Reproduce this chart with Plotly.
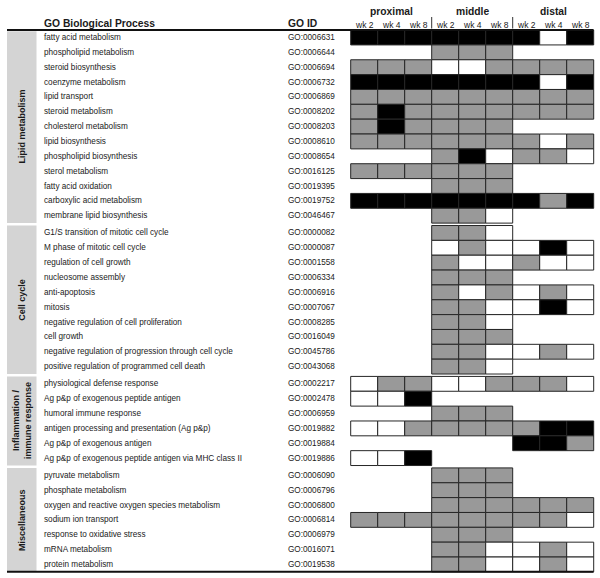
import plotly.graph_objects as go

# ---------------- data ----------------
region_names = ["proximal", "middle", "distal"]
week_labels = ["wk 2", "wk 4", "wk 8"]

group_names = ["Lipid metabolism", "Cell cycle", "Inflammation /<br>immune response", "Miscellaneous"]

lipid_terms = ["fatty acid metabolism", "phospholipid metabolism", "steroid biosynthesis",
               "coenzyme metabolism", "lipid transport", "steroid metabolism",
               "cholesterol metabolism", "lipid biosynthesis", "phospholipid biosynthesis",
               "sterol metabolism", "fatty acid oxidation", "carboxylic acid metabolism",
               "membrane lipid biosynthesis"]
lipid_ids = ["GO:0006631", "GO:0006644", "GO:0006694", "GO:0006732", "GO:0006869",
             "GO:0008202", "GO:0008203", "GO:0008610", "GO:0008654", "GO:0016125",
             "GO:0019395", "GO:0019752", "GO:0046467"]
# 0 = not tested (blank), 1 = white, 2 = grey, 3 = black
lipid_vals = [
    [3, 3, 3, 3, 3, 3, 3, 1, 3],
    [0, 0, 0, 2, 2, 2, 0, 0, 0],
    [2, 2, 2, 1, 1, 2, 2, 2, 2],
    [3, 3, 3, 3, 3, 3, 3, 1, 3],
    [2, 2, 2, 2, 2, 2, 2, 2, 2],
    [2, 3, 2, 2, 2, 2, 2, 2, 2],
    [2, 3, 2, 2, 2, 2, 0, 0, 0],
    [2, 2, 2, 2, 2, 2, 2, 1, 2],
    [0, 0, 0, 2, 3, 1, 2, 2, 1],
    [2, 2, 2, 2, 2, 2, 0, 0, 0],
    [0, 0, 0, 2, 2, 2, 0, 0, 0],
    [3, 3, 3, 3, 3, 3, 3, 2, 3],
    [0, 0, 0, 2, 2, 1, 0, 0, 0],
]

cell_terms = ["G1/S transition of mitotic cell cycle", "M phase of mitotic cell cycle",
              "regulation of cell growth", "nucleosome assembly", "anti-apoptosis", "mitosis",
              "negative regulation of cell proliferation", "cell growth",
              "negative regulation of progression through cell cycle",
              "positive regulation of programmed cell death"]
cell_ids = ["GO:0000082", "GO:0000087", "GO:0001558", "GO:0006334", "GO:0006916",
            "GO:0007067", "GO:0008285", "GO:0016049", "GO:0045786", "GO:0043068"]
cell_vals = [
    [0, 0, 0, 2, 2, 1, 0, 0, 0],
    [0, 0, 0, 1, 2, 1, 1, 3, 1],
    [0, 0, 0, 2, 1, 1, 2, 1, 1],
    [0, 0, 0, 2, 2, 2, 0, 0, 0],
    [0, 0, 0, 2, 1, 2, 1, 2, 1],
    [0, 0, 0, 2, 2, 1, 1, 3, 1],
    [0, 0, 0, 2, 2, 1, 0, 0, 0],
    [0, 0, 0, 2, 2, 2, 0, 0, 0],
    [0, 0, 0, 2, 2, 1, 1, 2, 1],
    [0, 0, 0, 2, 2, 1, 0, 0, 0],
]

immune_terms = ["physiological defense response", "Ag p&p of exogenous peptide antigen",
                "humoral immune response", "antigen processing and presentation (Ag p&p)",
                "Ag p&p of exogenous antigen",
                "Ag p&p of exogenous peptide antigen via MHC class II"]
immune_ids = ["GO:0002217", "GO:0002478", "GO:0006959", "GO:0019882", "GO:0019884", "GO:0019886"]
immune_vals = [
    [1, 2, 2, 1, 1, 2, 2, 2, 1],
    [1, 1, 3, 0, 0, 0, 0, 0, 0],
    [0, 0, 0, 2, 2, 2, 0, 0, 0],
    [1, 1, 2, 2, 2, 2, 2, 3, 3],
    [0, 0, 0, 0, 0, 0, 3, 3, 2],
    [1, 1, 3, 0, 0, 0, 0, 0, 0],
]

misc_terms = ["pyruvate metabolism", "phosphate metabolism",
              "oxygen and reactive oxygen species metabolism", "sodium ion transport",
              "response to oxidative stress", "mRNA metabolism", "protein metabolism"]
misc_ids = ["GO:0006090", "GO:0006796", "GO:0006800", "GO:0006814", "GO:0006979",
            "GO:0016071", "GO:0019538"]
misc_vals = [
    [0, 0, 0, 2, 2, 2, 0, 0, 0],
    [0, 0, 0, 2, 2, 2, 0, 0, 0],
    [0, 0, 0, 2, 2, 2, 2, 2, 2],
    [2, 2, 2, 2, 2, 2, 2, 2, 1],
    [0, 0, 0, 2, 2, 2, 0, 0, 0],
    [0, 0, 0, 2, 2, 1, 1, 2, 1],
    [0, 0, 0, 2, 2, 1, 1, 2, 1],
]

groups_terms = [lipid_terms, cell_terms, immune_terms, misc_terms]
groups_ids = [lipid_ids, cell_ids, immune_ids, misc_ids]
groups_vals = [lipid_vals, cell_vals, immune_vals, misc_vals]

# ---------------- layout / style ----------------
W, H = 600, 578
X0, CW = 364.2, 27.0      # pixel centre of first column, column width
Y0, RH = 37.5, 14.85      # pixel centre of first row, row height
GAP = 2.4 / RH            # extra gap between groups (in row units)

def px2x(p):
    return (p - X0) / CW

def px2y(p):
    return (p - Y0) / RH

FILL = {1: "#ffffff", 2: "#999999", 3: "#000000"}
FONT = "Liberation Sans, Arial, sans-serif"
TXT = "#1a1a1a"

shapes = []
annotations = []

row_pos = 0.0
group_spans = []
for gi, (terms, ids, vals) in enumerate(zip(groups_terms, groups_ids, groups_vals)):
    start = row_pos
    for term, gid, row in zip(terms, ids, vals):
        annotations.append(dict(x=px2x(41.5), y=row_pos, text=term, xanchor="left",
                                yanchor="middle", showarrow=False,
                                font=dict(family=FONT, size=8.2, color=TXT)))
        annotations.append(dict(x=px2x(286), y=row_pos, text=gid, xanchor="left",
                                yanchor="middle", showarrow=False,
                                font=dict(family=FONT, size=8.2, color=TXT)))
        for ci, v in enumerate(row):
            if v == 0:
                continue
            shapes.append(dict(type="rect", xref="x", yref="y",
                               x0=ci - 0.5, x1=ci + 0.5,
                               y0=row_pos - 0.5, y1=row_pos + 0.5,
                               fillcolor=FILL[v], line=dict(color="#262626", width=1),
                               layer="above"))
        row_pos += 1
    end = row_pos - 1
    group_spans.append((start, end))
    row_pos += GAP

# group strips + labels
for gi, (s, e) in enumerate(group_spans):
    shapes.append(dict(type="rect", xref="x", yref="y", x0=px2x(7), x1=px2x(36.5),
                       y0=s - 0.5 + (0.08 if gi == 0 else 0), y1=e + 0.5,
                       fillcolor="#d4d4d4", line=dict(width=0), layer="below"))
    annotations.append(dict(x=px2x(22), y=(s + e) / 2, text="<b>%s</b>" % group_names[gi],
                            textangle=-90, showarrow=False, xanchor="center", yanchor="middle",
                            font=dict(family=FONT, size=9, color=TXT)))

first_top = group_spans[0][0] - 0.5
last_bottom = group_spans[-1][1] + 0.5

# top and bottom rules
shapes.append(dict(type="line", xref="x", yref="y", x0=px2x(7), x1=px2x(593.5),
                   y0=first_top, y1=first_top, line=dict(color="#111111", width=2)))
shapes.append(dict(type="line", xref="x", yref="y", x0=px2x(7), x1=px2x(593.5),
                   y0=last_bottom, y1=last_bottom, line=dict(color="#111111", width=2)))

# column headers
annotations.append(dict(x=px2x(41.5), y=px2y(23), text="<b>GO Biological Process</b>",
                        xanchor="left", yanchor="middle", showarrow=False,
                        font=dict(family=FONT, size=10.3, color=TXT)))
annotations.append(dict(x=px2x(286), y=px2y(23), text="<b>GO ID</b>",
                        xanchor="left", yanchor="middle", showarrow=False,
                        font=dict(family=FONT, size=10.3, color=TXT)))
for ri, rname in enumerate(region_names):
    annotations.append(dict(x=ri * 3 + 1, y=px2y(11.5), text="<b>%s</b>" % rname,
                            xanchor="center", yanchor="middle", showarrow=False,
                            font=dict(family=FONT, size=10.3, color=TXT)))
    for wi, wl in enumerate(week_labels):
        annotations.append(dict(x=ri * 3 + wi, y=px2y(25), text=wl,
                                xanchor="center", yanchor="middle", showarrow=False,
                                font=dict(family=FONT, size=8.5, color=TXT)))
    if ri > 0:
        shapes.append(dict(type="line", xref="x", yref="y", x0=ri * 3 - 0.5, x1=ri * 3 - 0.5,
                           y0=px2y(17), y1=px2y(28.5), line=dict(color="#333333", width=1)))

fig = go.Figure()
fig.add_trace(go.Scatter(x=[0], y=[0], mode="markers", marker=dict(opacity=0),
                         hoverinfo="skip", showlegend=False))
fig.update_layout(
    width=W, height=H,
    margin=dict(l=0, r=0, t=0, b=0),
    paper_bgcolor="white", plot_bgcolor="white",
    xaxis=dict(range=[px2x(0), px2x(W)], visible=False, fixedrange=True),
    yaxis=dict(range=[px2y(H), px2y(0)], visible=False, fixedrange=True),
    shapes=shapes, annotations=annotations, showlegend=False,
)
# remove the browser's default 8px page margin so the figure fills the window
fig.write_html("out.html", config={"displayModeBar": False, "staticPlot": True},
               post_script="document.body.style.margin='0px';")
